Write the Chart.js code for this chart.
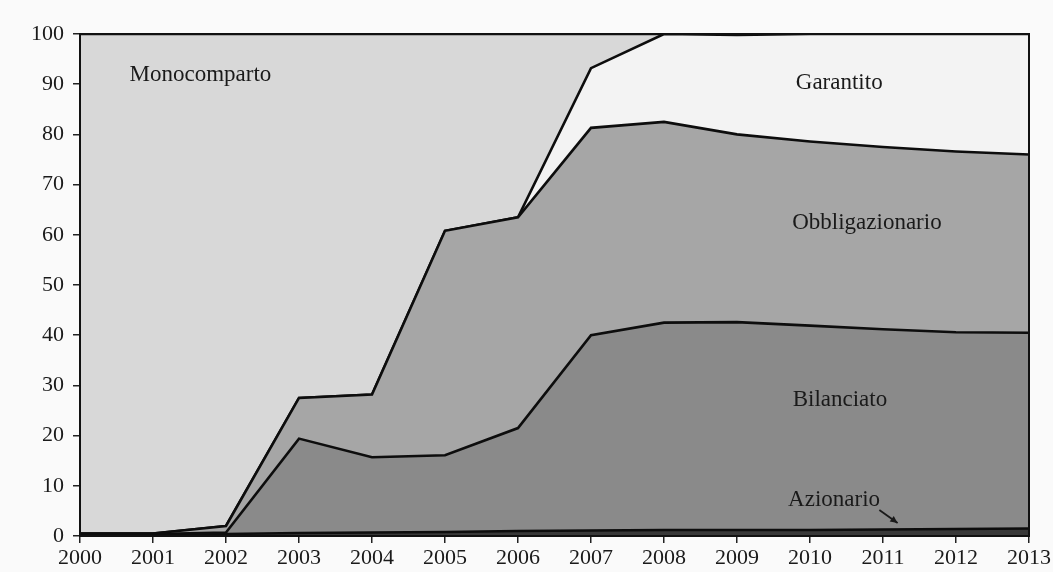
<!DOCTYPE html>
<html>
<head>
<meta charset="utf-8">
<script src="https://cdn.jsdelivr.net/npm/chart.js@4.4.1/dist/chart.umd.min.js"></script>
<style>
  html, body { margin: 0; padding: 0; background: #fafafa; }
  #wrap { width: 1053px; height: 572px; position: relative; }
</style>
</head>
<body>
<div id="wrap"><canvas id="chart"></canvas></div>
<script>
// years on the x axis
const years = [2000, 2001, 2002, 2003, 2004, 2005, 2006, 2007, 2008, 2009, 2010, 2011, 2012, 2013];

// share of each fund type (%), stacked bottom to top
const azionario       = [0.3, 0.3, 0.4, 0.6, 0.7, 0.8, 1.0, 1.1, 1.2, 1.2, 1.2, 1.3, 1.4, 1.5];
const bilanciato      = [0.1, 0.1, 0.3, 18.8, 15.0, 15.3, 20.5, 38.9, 41.3, 41.4, 40.7, 39.9, 39.2, 39.0];
const obbligazionario = [0.1, 0.1, 1.3, 8.1, 12.5, 44.7, 42.0, 41.3, 40.0, 37.4, 36.7, 36.3, 36.0, 35.5];
const garantito       = [0, 0, 0, 0, 0, 0, 0, 11.9, 17.5, 19.8, 21.4, 22.5, 23.4, 24.0];
const monocomparto    = [99.5, 99.5, 98.0, 72.5, 71.8, 39.2, 36.5, 6.8, 0, 0.2, 0, 0, 0, 0];

const yTicks = [0, 10, 20, 30, 40, 50, 60, 70, 80, 90, 100];

// in-chart labels, placed in data coordinates
const labels = [
  { text: "Monocomparto", x: 2001.65, y: 91.8 },
  { text: "Garantito", x: 2010.4, y: 90.2 },
  { text: "Obbligazionario", x: 2010.78, y: 62.3 },
  { text: "Bilanciato", x: 2010.41, y: 27.1 },
  { text: "Azionario", x: 2010.33, y: 7.2 }
];
const arrow = { from: [2010.95, 5.2], to: [2011.2, 2.6] };

const serif = "'Liberation Serif', 'DejaVu Serif', serif";

function pts(arr) {
  return years.map((yr, i) => ({ x: yr, y: arr[i] }));
}

function ds(label, arr, color, fill) {
  return {
    label: label,
    data: pts(arr),
    backgroundColor: color,
    borderColor: "#0d0d0d",
    borderWidth: 2.6,
    pointRadius: 0,
    tension: 0,
    fill: fill
  };
}

const annotate = {
  id: "annotate",
  afterDatasetsDraw(chart) {
    const { ctx, chartArea: a, scales } = chart;
    ctx.save();
    ctx.strokeStyle = "#111";
    ctx.lineWidth = 2;
    ctx.strokeRect(a.left, a.top, a.right - a.left, a.bottom - a.top);
    ctx.fillStyle = "#1a1a1a";
    ctx.font = "23px " + serif;
    ctx.textAlign = "center";
    ctx.textBaseline = "middle";
    labels.forEach(l => {
      ctx.fillText(l.text, scales.x.getPixelForValue(l.x), scales.y.getPixelForValue(l.y));
    });
    const x1 = scales.x.getPixelForValue(arrow.from[0]), y1 = scales.y.getPixelForValue(arrow.from[1]);
    const x2 = scales.x.getPixelForValue(arrow.to[0]), y2 = scales.y.getPixelForValue(arrow.to[1]);
    ctx.strokeStyle = "#1a1a1a";
    ctx.lineWidth = 1.8;
    ctx.beginPath();
    ctx.moveTo(x1, y1);
    ctx.lineTo(x2, y2);
    ctx.stroke();
    const ang = Math.atan2(y2 - y1, x2 - x1);
    ctx.beginPath();
    ctx.moveTo(x2, y2);
    ctx.lineTo(x2 - 8 * Math.cos(ang - 0.45), y2 - 8 * Math.sin(ang - 0.45));
    ctx.lineTo(x2 - 8 * Math.cos(ang + 0.45), y2 - 8 * Math.sin(ang + 0.45));
    ctx.closePath();
    ctx.fill();
    ctx.restore();
  }
};

new Chart(document.getElementById("chart"), {
  type: "line",
  data: {
    datasets: [
      ds("Azionario", azionario, "#383838", "origin"),
      ds("Bilanciato", bilanciato, "#8a8a8a", "-1"),
      ds("Obbligazionario", obbligazionario, "#a6a6a6", "-1"),
      ds("Garantito", garantito, "#f3f3f3", "-1"),
      ds("Monocomparto", monocomparto, "#d8d8d8", "-1")
    ]
  },
  options: {
    responsive: true,
    maintainAspectRatio: false,
    animation: false,
    layout: { padding: { top: 34, right: 23, left: 0, bottom: 0 } },
    plugins: {
      legend: { display: false },
      tooltip: { enabled: false },
      filler: { propagate: false }
    },
    scales: {
      x: {
        type: "linear",
        min: 2000,
        max: 2013,
        afterFit: s => { s.height = 36; },
        afterBuildTicks: s => { s.ticks = years.map(v => ({ value: v })); },
        ticks: {
          callback: v => String(v),
          color: "#1a1a1a",
          font: { family: serif, size: 22 },
          padding: 2,
          maxRotation: 0,
          autoSkip: false
        },
        grid: { drawOnChartArea: false, drawTicks: true, tickLength: 7, color: "#222", lineWidth: 1.5 },
        border: { display: true, color: "#111", width: 2 }
      },
      y: {
        stacked: true,
        min: 0,
        max: 100,
        afterFit: s => { s.width = 80; },
        afterBuildTicks: s => { s.ticks = yTicks.map(v => ({ value: v })); },
        ticks: {
          color: "#1a1a1a",
          font: { family: serif, size: 22 },
          padding: 9
        },
        grid: { drawOnChartArea: false, drawTicks: true, tickLength: 7, color: "#222", lineWidth: 1.5 },
        border: { display: true, color: "#111", width: 2 }
      }
    }
  },
  plugins: [annotate]
});
</script>
</body>
</html>
